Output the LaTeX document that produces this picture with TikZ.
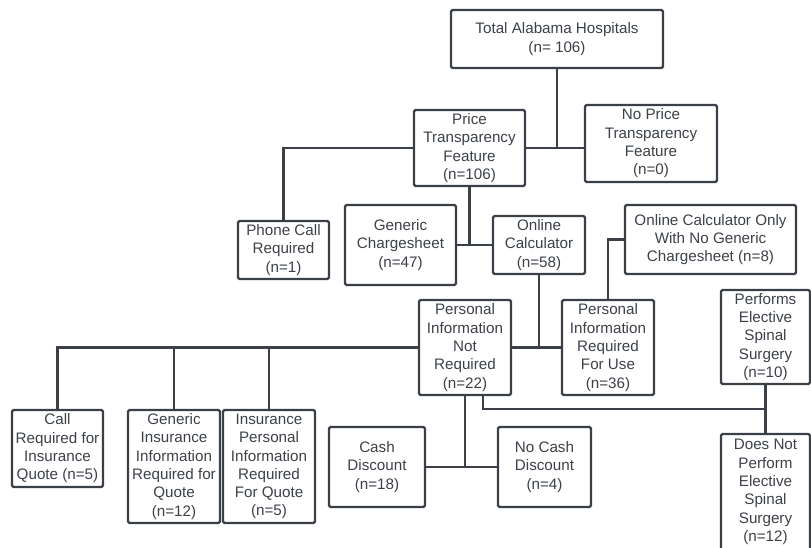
\documentclass[tikz,border=0pt]{standalone}
\usepackage{fontspec}
\setmainfont{Liberation Sans}
\usepackage{xcolor}
\usepackage{tikz}
\usetikzlibrary{calc}

\definecolor{linec}{HTML}{3A4046}
\definecolor{textc}{HTML}{3C4147}

\begin{document}
\begin{tikzpicture}[x=1pt, y=-1pt,
    box/.style={draw=linec, line width=2.4pt, rounded corners=1.5pt, align=center, inner sep=0pt,
        text=textc, font=\fontsize{15.2}{18.3}\selectfont},
    link/.style={draw=linec, line width=2.2pt}]
    % Page
    \clip (0,0) rectangle (811,547);

    % Boxes
    \node[box, minimum width=212, minimum height=58] (total) at (557,39) {Total Alabama Hospitals\\(n= 106)};
    \node[box, minimum width=111, minimum height=76] (price) at (469.5,148) {Price\\Transparency\\Feature\\(n=106)};
    \node[box, minimum width=132, minimum height=77] (noprice) at (651,143.5) {No Price\\Transparency\\Feature\\(n=0)};
    \node[box, minimum width=91, minimum height=58] (phone) at (283.5,250) {Phone Call\\Required\\(n=1)};
    \node[box, minimum width=111, minimum height=80] (generic) at (400.5,245) {Generic\\Chargesheet\\(n=47)};
    \node[box, minimum width=92, minimum height=58] (online) at (539,245) {Online\\Calculator\\(n=58)};
    \node[box, minimum width=171, minimum height=69] (onlycalc) at (710.5,239.5) {Online Calculator Only\\With No Generic\\Chargesheet (n=8)};
    \node[box, minimum width=92, minimum height=95] (pinr) at (465,347.5) {Personal\\Information\\Not\\Required\\(n=22)};
    \node[box, minimum width=92, minimum height=95] (piru) at (608,347.5) {Personal\\Information\\Required\\For Use\\(n=36)};
    \node[box, minimum width=91, minimum height=77] (call) at (57.5,448.5) {Call\\Required for\\Insurance\\Quote (n=5)};
    \node[box, minimum width=92, minimum height=113] (genins) at (174,466.5) {Generic\\Insurance\\Information\\Required for\\Quote\\(n=12)};
    \node[box, minimum width=92, minimum height=113] (inspers) at (269,466.5) {Insurance\\Personal\\Information\\Required\\For Quote\\(n=5)};
    \node[box, minimum width=96, minimum height=80] (cash) at (377,467) {Cash\\Discount\\(n=18)};
    \node[box, minimum width=93, minimum height=80] (nocash) at (544.5,467) {No Cash\\Discount\\(n=4)};
    \node[box, minimum width=89, minimum height=94] (performs) at (765.5,337) {Performs\\Elective\\Spinal\\Surgery\\(n=10)};
    \node[box, minimum width=89, minimum height=116] (doesnot) at (765.5,492) {Does Not\\Perform\\Elective\\Spinal\\Surgery\\(n=12)};

    % Connectors
    \draw[link] (total.south) -- (total.south |- price.east);
    \draw[link] (price.east) -- (price.east -| noprice.west);
    \draw[link] (price.west) -| (phone.north);
    \draw[link] (price.south) -- (price.south |- online.west);
    \draw[link] (generic.east) -- (online.west);
    \draw[link] (online.south) -- (online.south |- pinr.east);
    \draw[link] (pinr.east) -- (piru.west);
    \draw[link] (onlycalc.west) -| (piru.north);
    \draw[link] (pinr.west) -| (call.north);
    \foreach \b in {genins, inspers} {
        \draw[link] (\b.north) -- (\b.north |- pinr.west);
    }
    \draw[link] (pinr.south) -- (pinr.south |- cash.east);
    \draw[link] (cash.east) -- (nocash.west);
    \coordinate (split) at ($(performs.south)!0.5!(doesnot.north)$);
    \draw[link] ([xshift=18]pinr.south) |- (split);
    \draw[link] (performs.south) -- (doesnot.north);

\end{tikzpicture}
\end{document}
